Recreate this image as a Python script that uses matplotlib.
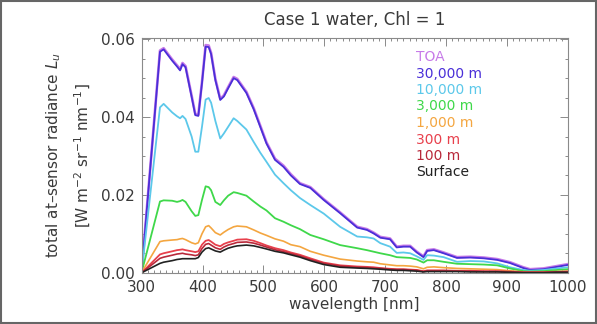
import numpy as np
import matplotlib
matplotlib.use("Agg")
import matplotlib.pyplot as plt
from matplotlib.ticker import MultipleLocator
from matplotlib.patches import Rectangle

# wavelength grid [nm]
wl = [300, 330, 336, 350, 358, 363, 367, 372, 382, 388, 393, 399, 405, 410, 414,
      421, 429, 435, 442, 451, 457, 472, 484, 495, 505, 519, 533, 545, 560, 577,
      599, 626, 654, 670, 681, 692, 708, 719, 730, 741, 752, 763, 769, 780, 796,
      818, 840, 862, 884, 905, 927, 938, 960, 982, 1000]

toa = [0.0006, 0.0571, 0.0577, 0.0548, 0.0533, 0.0523, 0.0539, 0.0531, 0.0455, 0.0408,
       0.0406, 0.0490, 0.0585, 0.0584, 0.0565, 0.0498, 0.0447, 0.0456, 0.0477, 0.0503,
       0.0498, 0.0465, 0.0423, 0.0377, 0.0335, 0.0293, 0.0275, 0.0253, 0.0230, 0.0220,
       0.0189, 0.0155, 0.0118, 0.0112, 0.0103, 0.0092, 0.0088, 0.0067, 0.0069, 0.0069,
       0.0054, 0.0042, 0.0058, 0.0060, 0.0052, 0.0040, 0.0041, 0.0039, 0.0035, 0.0027,
       0.0014, 0.0009, 0.0011, 0.0017, 0.0022]

h30000 = [0.0005, 0.0568, 0.0574, 0.0545, 0.0530, 0.0520, 0.0536, 0.0528, 0.0452, 0.0405,
          0.0403, 0.0487, 0.0581, 0.0580, 0.0562, 0.0495, 0.0444, 0.0453, 0.0474, 0.0500,
          0.0495, 0.0462, 0.0420, 0.0374, 0.0332, 0.0290, 0.0272, 0.0250, 0.0228, 0.0218,
          0.0187, 0.0153, 0.0116, 0.0110, 0.0101, 0.0090, 0.0086, 0.0065, 0.0067, 0.0067,
          0.0052, 0.0040, 0.0056, 0.0058, 0.0050, 0.0038, 0.0039, 0.0037, 0.0033, 0.0025,
          0.0012, 0.0007, 0.0009, 0.0015, 0.0020]

h10000 = [0.0004, 0.0425, 0.0434, 0.0412, 0.0402, 0.0397, 0.0403, 0.0395, 0.0350, 0.0311,
          0.0311, 0.0375, 0.0445, 0.0449, 0.0437, 0.0390, 0.0345, 0.0358, 0.0375, 0.0397,
          0.0390, 0.0368, 0.0336, 0.0308, 0.0285, 0.0252, 0.0230, 0.0212, 0.0192, 0.0174,
          0.0152, 0.0118, 0.0093, 0.0091, 0.0088, 0.0076, 0.0067, 0.0051, 0.0052, 0.0050,
          0.0042, 0.0033, 0.0045, 0.0044, 0.0040, 0.0028, 0.0030, 0.0029, 0.0024, 0.0014,
          0.0007, 0.0005, 0.0007, 0.0011, 0.0014]

h3000 = [0.0002, 0.0183, 0.0186, 0.0185, 0.0182, 0.0184, 0.0187, 0.0182, 0.0158, 0.0146,
         0.0148, 0.0187, 0.0222, 0.0220, 0.0212, 0.0182, 0.0174, 0.0186, 0.0198, 0.0207,
         0.0205, 0.0198, 0.0183, 0.0170, 0.0160, 0.0140, 0.0131, 0.0122, 0.0112, 0.0097,
         0.0086, 0.0071, 0.0063, 0.0058, 0.0054, 0.0050, 0.0045, 0.0040, 0.0039, 0.0038,
         0.0034, 0.0026, 0.0032, 0.0032, 0.0028, 0.0023, 0.0022, 0.0021, 0.0019, 0.0011,
         0.0004, 0.0003, 0.0004, 0.0007, 0.0009]

h1000 = [0.0001, 0.0080, 0.0082, 0.0084, 0.0085, 0.0087, 0.0088, 0.0085, 0.0077, 0.0074,
         0.0077, 0.0100, 0.0118, 0.0121, 0.0115, 0.0103, 0.0097, 0.0104, 0.0111, 0.0118,
         0.0120, 0.0118, 0.0110, 0.0102, 0.0096, 0.0087, 0.0081, 0.0072, 0.0067, 0.0055,
         0.0045, 0.0035, 0.0030, 0.0028, 0.0027, 0.0023, 0.0020, 0.0018, 0.0018, 0.0017,
         0.0015, 0.0010, 0.0014, 0.0015, 0.0013, 0.0011, 0.0010, 0.0009, 0.0008, 0.0005,
         0.0002, 0.0002, 0.0002, 0.0003, 0.0004]

h300 = [0.0000, 0.0047, 0.0050, 0.0055, 0.0058, 0.0059, 0.0060, 0.0058, 0.0055, 0.0053,
        0.0055, 0.0072, 0.0082, 0.0084, 0.0080, 0.0072, 0.0068, 0.0074, 0.0078, 0.0082,
        0.0085, 0.0086, 0.0082, 0.0076, 0.0070, 0.0063, 0.0058, 0.0052, 0.0046, 0.0037,
        0.0026, 0.0019, 0.0016, 0.0015, 0.0014, 0.0012, 0.0010, 0.0009, 0.0009, 0.0008,
        0.0007, 0.0004, 0.0006, 0.0006, 0.0006, 0.0005, 0.0005, 0.0004, 0.0004, 0.0003,
        0.0001, 0.0001, 0.0001, 0.0002, 0.0003]

h100 = [0.0000, 0.0037, 0.0040, 0.0045, 0.0048, 0.0049, 0.0050, 0.0048, 0.0046, 0.0044,
        0.0046, 0.0062, 0.0073, 0.0075, 0.0071, 0.0064, 0.0060, 0.0066, 0.0071, 0.0075,
        0.0078, 0.0079, 0.0076, 0.0071, 0.0066, 0.0059, 0.0054, 0.0049, 0.0043, 0.0034,
        0.0024, 0.0017, 0.0014, 0.0013, 0.0012, 0.0011, 0.0009, 0.0008, 0.0008, 0.0007,
        0.0006, 0.0003, 0.0005, 0.0005, 0.0005, 0.0004, 0.0004, 0.0003, 0.0003, 0.0002,
        0.0001, 0.0001, 0.0001, 0.0002, 0.0002]

surface = [0.0000, 0.0024, 0.0027, 0.0031, 0.0034, 0.0035, 0.0036, 0.0036, 0.0036, 0.0036,
           0.0039, 0.0053, 0.0062, 0.0064, 0.0061, 0.0056, 0.0053, 0.0058, 0.0063, 0.0067,
           0.0069, 0.0071, 0.0069, 0.0065, 0.0061, 0.0055, 0.0051, 0.0046, 0.0040, 0.0031,
           0.0021, 0.0014, 0.0012, 0.0011, 0.0010, 0.0009, 0.0007, 0.0006, 0.0006, 0.0005,
           0.0004, 0.0002, 0.0003, 0.0003, 0.0003, 0.0003, 0.0002, 0.0002, 0.0002, 0.0001,
           0.0000, 0.0000, 0.0000, 0.0001, 0.0001]

labels = ["TOA", "30,000 m", "10,000 m", "3,000 m", "1,000 m", "300 m", "100 m", "Surface"]
series = [toa, h30000, h10000, h3000, h1000, h300, h100, surface]
colors = ["#c77ae8", "#4a2fd8", "#5cc8ea", "#3fd84a", "#f4a640", "#e8404c", "#b8283a", "#222222"]

fig = plt.figure(figsize=(5.97, 3.24), dpi=100)
ax = fig.add_axes([0.2374, 0.1583, 0.7136, 0.7253])

for ys, c, w in zip(series, colors, [1.9, 1.3, 1.3, 1.3, 1.2, 1.3, 1.2, 1.2]):
    ax.plot(wl, ys, color=c, lw=w, solid_joinstyle="round")

ax.set_xlim(300, 1000)
ax.set_ylim(0, 0.0604)
ax.xaxis.set_major_locator(MultipleLocator(100))
ax.xaxis.set_minor_locator(MultipleLocator(10))
ax.yaxis.set_major_locator(MultipleLocator(0.02))
ax.yaxis.set_minor_locator(MultipleLocator(0.005))
ax.yaxis.set_major_formatter(matplotlib.ticker.FormatStrFormatter("%.2f"))

gray = "#8a8a8a"
txt = "#3a3a3a"
for s in ax.spines.values():
    s.set_color(gray)
    s.set_linewidth(0.8)
ax.tick_params(which="both", direction="in", top=True, right=True, color=gray,
               labelcolor=txt, labelsize=11, width=0.7)
ax.tick_params(which="major", length=6, pad=5)
ax.tick_params(which="minor", length=2.5)

ax.set_title("Case 1 water, Chl = 1", fontsize=12, color=txt, pad=9)
ax.set_xlabel("wavelength [nm]", fontsize=11, color=txt, labelpad=2)
ax.set_ylabel("total at\u2013sensor radiance $L_u$\n[W m$^{-2}$ sr$^{-1}$ nm$^{-1}$]",
              fontsize=11, color=txt, labelpad=6, linespacing=1.6)

# colored text legend
for i, (lab, c) in enumerate(zip(labels, colors)):
    fig.text(416 / 597, 1 - (57 + i * 16.5) / 324, lab, color=c, fontsize=10,
             va="center", ha="left")

# outer frame
fig.patches.append(Rectangle((0.002, 0.003), 0.996, 0.994, transform=fig.transFigure,
                             fill=False, edgecolor="#666666", lw=1.5))

fig.savefig("out.png", dpi=100)
